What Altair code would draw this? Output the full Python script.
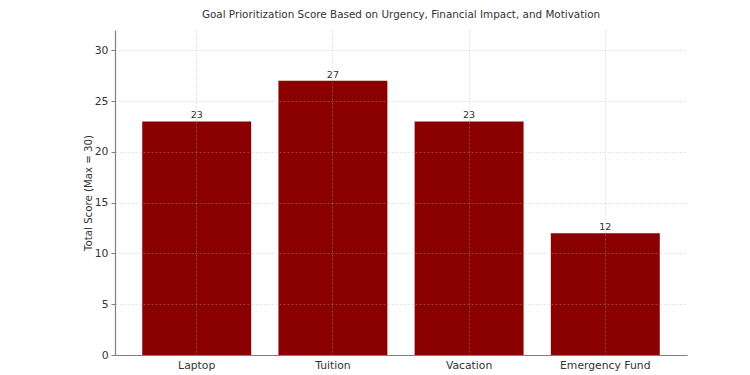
import altair as alt
import pandas as pd

goals = ["Laptop", "Tuition", "Vacation", "Emergency Fund"]
scores = [23, 27, 23, 12]

df = pd.DataFrame({"goal": goals, "score": scores})

FONT = "DejaVu Sans"

x = alt.X("goal:N", sort=goals, title=None,
          scale=alt.Scale(paddingInner=0.2, paddingOuter=0.2),
          axis=alt.Axis(labelAngle=0, labelFontSize=10.8, labelColor="#333333", labelFont=FONT,
                        grid=True, gridColor="#b0b0b0", gridOpacity=0.45, gridDash=[2, 2], gridWidth=0.8,
                        bandPosition=0.5, ticks=False, labelPadding=4,
                        domainColor="#808080", domainWidth=1.2, zindex=1))

y = alt.Y("score:Q", title="Total Score (Max = 30)",
          scale=alt.Scale(domain=[0, 32], nice=False),
          axis=alt.Axis(values=[0, 5, 10, 15, 20, 25, 30], labelFontSize=10.8, labelColor="#333333",
                        labelFont=FONT, titleFont=FONT, titleFontSize=10.2, titleFontWeight="normal",
                        titleColor="#333333", titlePadding=1,
                        grid=True, gridColor="#b0b0b0", gridOpacity=0.45, gridDash=[2, 2], gridWidth=0.8,
                        tickSize=4, tickColor="#808080", domainColor="#808080", domainWidth=1.2,
                        labelPadding=3, zindex=1))

bars = alt.Chart(df).mark_bar(color="#8b0000").encode(x=x, y=y)
labels = alt.Chart(df).mark_text(dy=-6, fontSize=9.5, color="#333333", font=FONT).encode(
    x=alt.X("goal:N", sort=goals), y="score:Q", text="score:Q")

chart = (bars + labels).properties(
    width=572, height=325,
    title=alt.TitleParams("Goal Prioritization Score Based on Urgency, Financial Impact, and Motivation",
                          font=FONT, fontSize=10.4, fontWeight="normal", color="#333333", offset=10),
    autosize=alt.AutoSizeParams(type="none"),
    padding={"left": 107, "top": 22, "right": 40, "bottom": 30},
).configure_view(stroke=None)

chart.save("out.html", embed_options={"renderer": "svg", "actions": False})
